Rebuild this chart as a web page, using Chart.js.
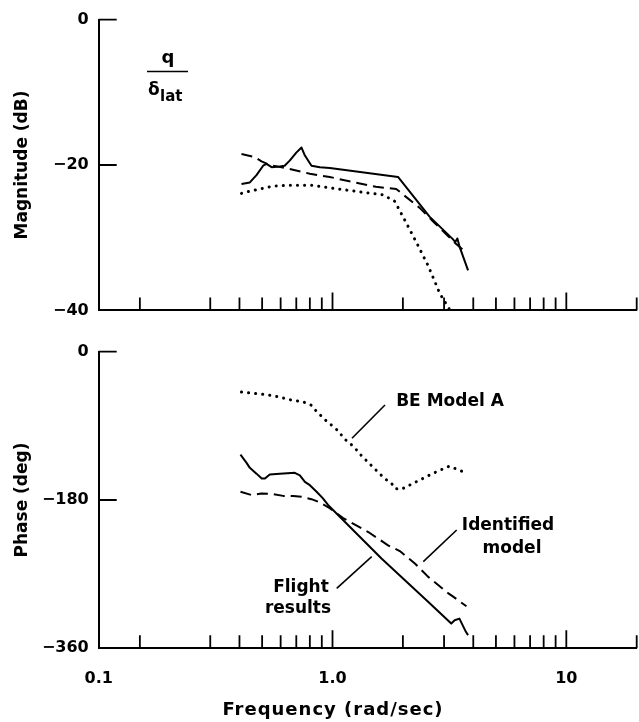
<!DOCTYPE html>
<html><head><meta charset="utf-8">
<script src="https://cdn.jsdelivr.net/npm/chart.js@4.4.0/dist/chart.umd.min.js"></script>
<style>
html,body{margin:0;padding:0;background:#fff;}
#wrap{position:relative;width:639px;height:722px;background:#fff;}
canvas{position:absolute;left:0;}
#c1{top:0;width:639px;height:330px;}
#c2{top:330px;width:639px;height:392px;}
</style></head><body>
<div id="wrap"><canvas id="c1" width="639" height="330"></canvas><canvas id="c2" width="639" height="392"></canvas></div>
<script>
// ---------- data ----------
const xTickValues = [0.1, 1, 10];
const xTickLabels = ['0.1', '1.0', '10'];
const xMinorTicks = [0.15, 0.3, 0.4, 0.5, 0.6, 0.7, 0.8, 0.9, 2, 3, 4, 5, 6, 7, 8, 9, 20];
const xMajorTicks = [1, 10];

const magTickValues = [-40, -20, 0];
const magTickLabels = ['\u221240', '\u221220', '0'];
const phaseTickValues = [-360, -180, 0];
const phaseTickLabels = ['\u2212360', '\u2212180', '0'];

// Magnitude (dB) – flight results (solid)
const magFlightFreq = [0.408, 0.443, 0.473, 0.505, 0.522, 0.549, 0.594, 0.624, 0.656, 0.700, 0.737, 0.762, 0.813, 0.883, 0.974, 1.906, 2.60, 3.27, 3.35, 3.42, 3.50, 3.80];
const magFlight     = [-22.6, -22.4, -21.4, -20.1, -19.85, -20.3, -20.2, -20.1, -19.4, -18.3, -17.6, -18.7, -20.1, -20.3, -20.4, -21.65, -27.1, -30.2, -30.6, -30.1, -31.3, -34.5];
// Magnitude – identified model (dashed)
const magModelFreq = [0.408, 0.465, 0.497, 0.540, 0.646, 0.800, 0.973, 1.309, 1.535, 1.873, 2.36, 2.68, 3.39, 3.60];
const magModel     = [-18.5, -18.9, -19.5, -20.0, -20.5, -21.2, -21.65, -22.55, -23.0, -23.3, -25.9, -27.7, -30.9, -31.6];
// Magnitude – BE Model A (dotted)
const magBEFreq = [0.408, 0.443, 0.473, 0.557, 0.646, 0.826, 0.957, 1.309, 1.645, 1.847, 2.07, 2.29, 2.56, 2.88, 3.17];
const magBE     = [-23.9, -23.6, -23.4, -22.9, -22.8, -22.8, -23.1, -23.7, -24.1, -25.0, -28.0, -30.7, -33.8, -37.7, -39.9];

// Phase (deg) – flight results (solid)
const phFlightFreq = [0.404, 0.429, 0.443, 0.473, 0.498, 0.514, 0.539, 0.595, 0.690, 0.725, 0.762, 0.800, 0.855, 0.910, 0.957, 1.62, 2.55, 3.22, 3.33, 3.49, 3.72, 3.80];
const phFlight     = [-125, -135, -141, -148, -154, -154, -149, -148, -147, -150, -158, -162, -170, -178, -186, -251, -303, -330, -326, -324, -340, -344];
// Phase – identified model (dashed)
const phModelFreq = [0.404, 0.451, 0.497, 0.557, 0.615, 0.679, 0.737, 0.813, 0.883, 0.973, 1.110, 1.443, 1.728, 1.94, 2.25, 2.56, 3.12, 3.27, 3.74];
const phModel     = [-170, -174, -172, -173, -175, -175, -176, -179, -183, -190, -202, -220, -235, -242, -257, -273, -293, -297, -309];
// Phase – BE Model A (dotted)
const phBEFreq = [0.408, 0.514, 0.595, 0.646, 0.750, 0.812, 0.852, 0.895, 0.957, 1.022, 1.07, 1.126, 1.205, 1.265, 1.328, 1.417, 1.488, 1.59, 1.672, 1.79, 1.847, 1.97, 2.39, 2.59, 2.77, 3.16, 3.72];
const phBE     = [-49, -52, -55, -58, -61, -65, -72, -78, -86, -92, -98, -106, -113, -119, -126, -134, -140, -148, -154, -160, -166, -167, -155, -150, -146, -139, -147];

// ---------- helpers ----------
const FONT = "'DejaVu Sans', 'Liberation Sans', sans-serif";
Chart.defaults.font.family = FONT;
Chart.defaults.font.weight = 'bold';
Chart.defaults.color = '#000';

const pts = (xs, ys) => xs.map((x, i) => ({x: x, y: ys[i]}));

function series(xs, ys, kind) {
  const d = {data: pts(xs, ys), borderColor: '#000', borderWidth: 2, pointRadius: 0, fill: false, tension: 0, borderJoinStyle: 'round'};
  if (kind === 'dash') { d.borderDash = [11, 6]; }
  if (kind === 'dot') { d.borderDash = [0.1, 7]; d.borderWidth = 3; d.borderCapStyle = 'round'; }
  return d;
}

function xScale(showLabels, h) {
  return {
    type: 'logarithmic', min: 0.1, max: 20,
    grid: {display: false, drawTicks: false},
    border: {display: true, color: '#000', width: 2},
    ticks: {display: showLabels, padding: 21, color: '#000', font: {size: 16, weight: 'bold'},
            maxRotation: 0, autoSkip: false, callback: (v, i) => xTickLabels[i]},
    afterBuildTicks: s => { s.ticks = xTickValues.map(v => ({value: v})); },
    afterFit: s => { s.height = h; }
  };
}

function yScale(min, vals, labels, title) {
  return {
    type: 'linear', min: min, max: 0,
    grid: {display: false, drawTicks: false},
    border: {display: true, color: '#000', width: 2},
    ticks: {padding: 10, color: '#000', font: {size: 16, weight: 'bold'}, callback: (v, i) => labels[i]},
    afterBuildTicks: s => { s.ticks = vals.map(v => ({value: v})); },
    afterFit: s => { s.width = 98.7; },
    title: {display: true, text: title, color: '#000', font: {size: 17, weight: 'bold'}, padding: {top: 12, bottom: 0}}
  };
}

const insideTicks = {
  id: 'insideTicks',
  afterDraw(chart, args, opts) {
    const {ctx, chartArea, scales} = chart;
    ctx.save();
    ctx.strokeStyle = '#000';
    ctx.lineWidth = 1.8;
    ctx.beginPath();
    xMinorTicks.forEach(v => { const p = scales.x.getPixelForValue(v); ctx.moveTo(p, chartArea.bottom); ctx.lineTo(p, chartArea.bottom - 13); });
    xMajorTicks.forEach(v => { const p = scales.x.getPixelForValue(v); ctx.moveTo(p, chartArea.bottom); ctx.lineTo(p, chartArea.bottom - 18); });
    opts.yTicks.forEach(v => { const p = scales.y.getPixelForValue(v); ctx.moveTo(chartArea.left, p); ctx.lineTo(chartArea.left + 18, p); });
    ctx.stroke();
    ctx.restore();
  }
};

const notes = {
  id: 'notes',
  afterDraw(chart, args, opts) {
    const ctx = chart.ctx;
    ctx.save();
    ctx.fillStyle = '#000';
    ctx.strokeStyle = '#000';
    (opts.texts || []).forEach(t => {
      ctx.font = 'bold ' + t.size + 'px ' + FONT;
      ctx.textAlign = t.align || 'center';
      ctx.textBaseline = 'alphabetic';
      if ('letterSpacing' in ctx) ctx.letterSpacing = (t.ls || 0) + 'px';
      ctx.fillText(t.text, t.x, t.y);
    });
    if ('letterSpacing' in ctx) ctx.letterSpacing = '0px';
    ctx.lineWidth = 1.6;
    (opts.lines || []).forEach(l => {
      ctx.beginPath(); ctx.moveTo(l[0], l[1]); ctx.lineTo(l[2], l[3]); ctx.stroke();
    });
    ctx.restore();
  }
};

const common = {
  responsive: false, animation: false, maintainAspectRatio: false,
  plugins: {legend: {display: false}, tooltip: {enabled: false}}
};

new Chart(document.getElementById('c1'), {
  type: 'line',
  data: {datasets: [
    series(magFlightFreq, magFlight, 'solid'),
    series(magModelFreq, magModel, 'dash'),
    series(magBEFreq, magBE, 'dot')
  ]},
  options: Object.assign({}, common, {
    layout: {padding: {top: 15, right: 2.3, left: 0, bottom: 0}},
    scales: {x: xScale(false, 19.3), y: yScale(-40, magTickValues, magTickLabels, 'Magnitude (dB)')},
    plugins: Object.assign({}, common.plugins, {
      insideTicks: {yTicks: [0, -20]},
      notes: {
        texts: [
          {text: 'q', x: 168, y: 63, size: 18},
          {text: '\u03b4', x: 148, y: 95, size: 17, align: 'left'},
          {text: 'lat', x: 160, y: 101, size: 15, align: 'left'}
        ],
        lines: [[147, 71.5, 188, 71.5]]
      }
    })
  }),
  plugins: [insideTicks, notes]
});

new Chart(document.getElementById('c2'), {
  type: 'line',
  data: {datasets: [
    series(phFlightFreq, phFlight, 'solid'),
    series(phModelFreq, phModel, 'dash'),
    series(phBEFreq, phBE, 'dot')
  ]},
  options: Object.assign({}, common, {
    layout: {padding: {top: 21.7, right: 2.3, left: 0, bottom: 0}},
    scales: {x: xScale(true, 73.7), y: yScale(-360, phaseTickValues, phaseTickLabels, 'Phase (deg)')},
    plugins: Object.assign({}, common.plugins, {
      insideTicks: {yTicks: [0, -180]},
      notes: {
        texts: [
          {text: 'BE Model A', x: 450, y: 76, size: 17},
          {text: 'Identified', x: 508, y: 200, size: 17},
          {text: 'model', x: 512, y: 223, size: 17},
          {text: 'Flight', x: 301, y: 262, size: 17},
          {text: 'results', x: 298, y: 283, size: 17},
          {text: 'Frequency (rad/sec)', x: 333, y: 385, size: 18, ls: 1}
        ],
        lines: [
          [385, 75, 352, 108.3],
          [456.7, 200, 423.3, 231.7],
          [336.7, 258.3, 371.7, 226.7]
        ]
      }
    })
  }),
  plugins: [insideTicks, notes]
});
</script>
</body></html>
